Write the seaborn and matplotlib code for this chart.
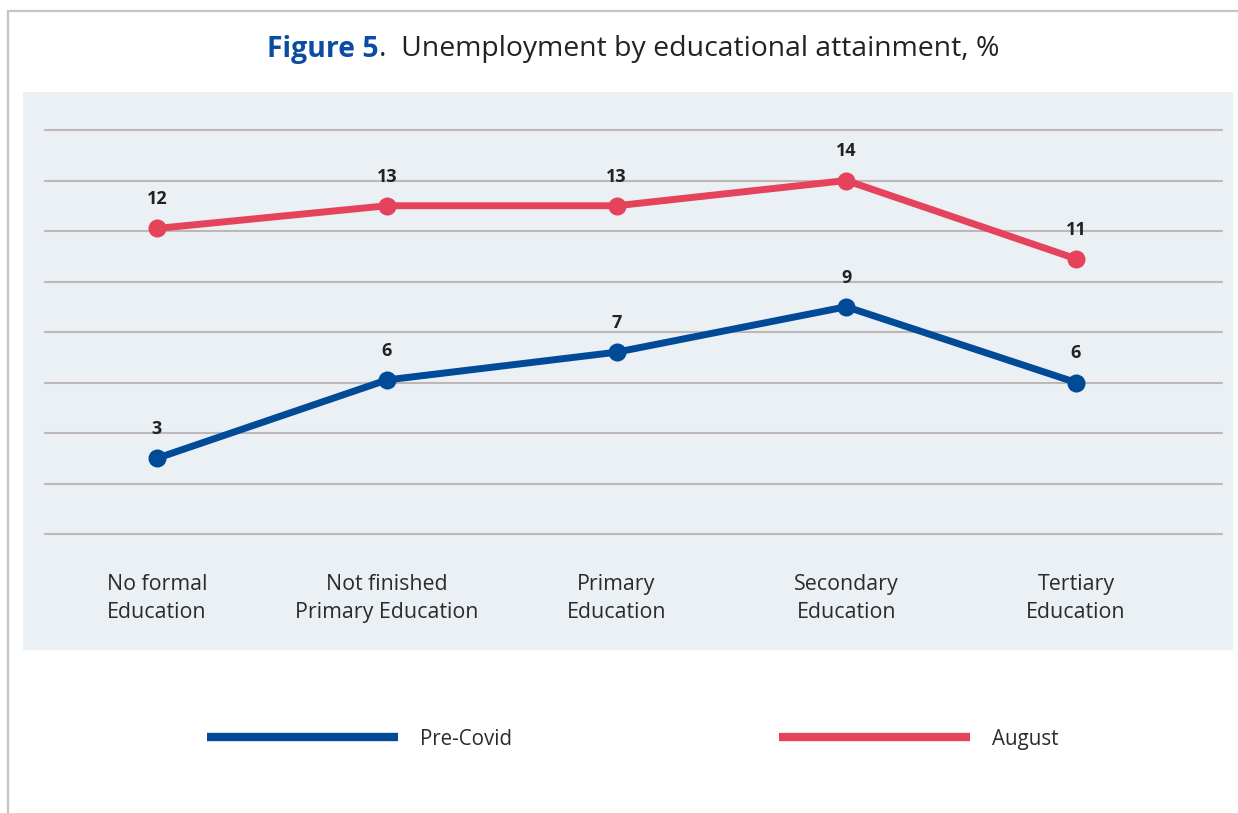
import matplotlib
matplotlib.use("Agg")
import matplotlib.pyplot as plt
import seaborn as sns
import pandas as pd
from matplotlib.patches import Rectangle
from matplotlib.lines import Line2D

# ---- data -------------------------------------------------------------
categories = [
    "No formal\nEducation",
    "Not finished\nPrimary Education",
    "Primary\nEducation",
    "Secondary\nEducation",
    "Tertiary\nEducation",
]
pre_covid = [3.0, 6.1, 7.2, 9.0, 6.0]
august = [12.1, 13.0, 13.0, 14.0, 10.9]
series_names = ["Pre-Covid", "August"]
y_grid = [0, 2, 4, 6, 8, 10, 12, 14, 16]

colors = {"Pre-Covid": "#004A98", "August": "#E5435B"}

df = pd.DataFrame({
    "category": categories * 2,
    "value": pre_covid + august,
    "series": [series_names[0]] * len(categories) + [series_names[1]] * len(categories),
})

# ---- figure setup -----------------------------------------------------
W, H = 1238, 813
sns.set_theme(style="white")
plt.rcParams["font.family"] = ["Open Sans", "DejaVu Sans"]

fig = plt.figure(figsize=(W / 100, H / 100), dpi=100)
fig.patch.set_facecolor("white")


def fx(px):
    return px / W


def fy(py):
    return 1 - py / H


# light panel behind the plot
fig.patches.append(Rectangle((fx(23), fy(650)), fx(1233) - fx(23), fy(92) - fy(650),
                             transform=fig.transFigure, facecolor="#EBF0F5",
                             edgecolor="none", zorder=-1))
# thin page frame on top and left
frame_kw = dict(color="#C9C3C3", linewidth=1.6, transform=fig.transFigure)
fig.add_artist(Line2D([fx(8), fx(8)], [0, fy(11)], **frame_kw))
fig.add_artist(Line2D([fx(8), 1], [fy(11), fy(11)], **frame_kw))

ax = fig.add_axes([fx(45), fy(534), fx(1222) - fx(45), fy(130) - fy(534)])
ax.set_facecolor("none")

sns.lineplot(data=df, x="category", y="value", hue="series", palette=colors,
             hue_order=series_names, sort=False, marker="o", markersize=13,
             markeredgewidth=0, linewidth=5, legend=False, ax=ax, zorder=3)

# value labels above each point
for vals in (pre_covid, august):
    for i, v in enumerate(vals):
        ax.annotate(f"{v:.0f}", (i, v), xytext=(0, 21), textcoords="offset points",
                    ha="center", va="center", fontsize=13, fontweight="bold",
                    color="#222222", zorder=4)

unit = (1076 - 157) / 4
ax.set_xlim(-(157 - 45) / unit, 4 + (1222 - 1076) / unit)
ax.set_ylim(0, 16)
ax.set_yticks(y_grid)
ax.set_xticks(range(len(categories)))
ax.set_xticklabels(categories, fontsize=15.4, color="#2B2B2B", linespacing=1.42)
ax.tick_params(axis="x", length=0, pad=29)
ax.tick_params(axis="y", length=0, labelleft=False)
ax.grid(axis="y", color="#BDB7B7", linewidth=1.5)
ax.grid(axis="x", visible=False)
for gl in ax.get_ygridlines():
    gl.set_clip_on(False)
ax.set_xlabel("")
ax.set_ylabel("")
for s in ax.spines.values():
    s.set_visible(False)

# legend below the panel
handles = [Line2D([], [], color=colors[n], linewidth=6, solid_capstyle="butt")
           for n in series_names]
fig.legend(handles, series_names, loc="center left",
           bbox_to_anchor=(fx(207), fy(739)), ncol=2, frameon=False,
           fontsize=14.8, handlelength=9.3, handletextpad=1.05,
           columnspacing=13.0, borderpad=0, borderaxespad=0,
           labelcolor="#2B2B2B")

# two-part title: bold blue figure number followed by the caption
title_kw = dict(fontsize=20.4, family=["Open Sans", "DejaVu Sans"], va="center")
t1 = fig.text(0, fy(49), "Figure 5", fontweight="bold", color="#0B4DA2", **title_kw)
t2 = fig.text(0, fy(49), ".  Unemployment by educational attainment, %",
              color="#222222", **title_kw)
renderer = fig.canvas.get_renderer()
w1 = t1.get_window_extent(renderer).width
w2 = t2.get_window_extent(renderer).width
start = 633 - (w1 + w2) / 2
t1.set_x(fx(start))
t2.set_x(fx(start + w1))

fig.savefig("out.png", dpi=100)
